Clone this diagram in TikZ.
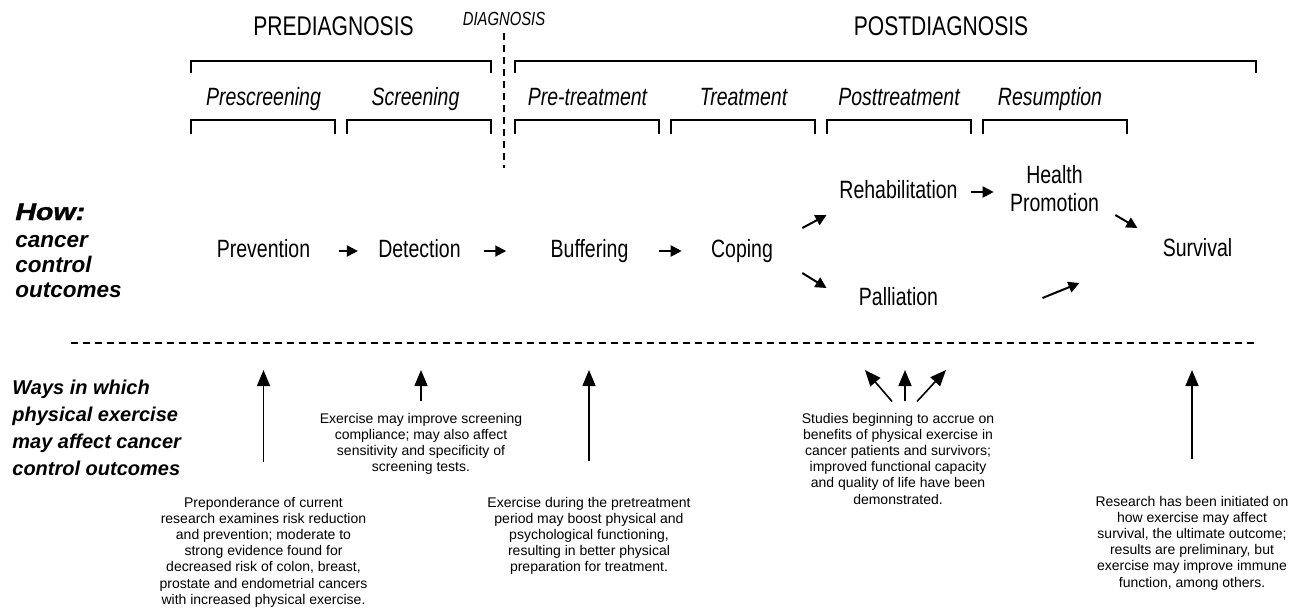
\documentclass[tikz,border=0pt]{standalone}
\usepackage{fontspec}
\setmainfont{Liberation Sans}
\newfontfamily\narrowfont{Liberation Sans}[FakeStretch=0.78]
\newfontfamily\heavyfont{Liberation Sans}[FakeBold=1.5,FakeStretch=1.19]
\usetikzlibrary{arrows.meta}
\begin{document}
\begin{tikzpicture}[x=0.5pt,y=-0.5pt,
 lab/.style={font=\narrowfont\fontsize{12.5}{14}\selectfont,inner sep=0pt,anchor=base},
 phaselab/.style={font=\narrowfont\itshape\fontsize{12.5}{14}\selectfont,inner sep=0pt,anchor=base},
 headlab/.style={font=\narrowfont\fontsize{13.5}{16}\selectfont,inner sep=0pt,anchor=base},
 diaglab/.style={font=\narrowfont\itshape\fontsize{9.5}{11}\selectfont,inner sep=0pt,anchor=base},
 notetext/.style={font=\fontsize{7}{8.1}\selectfont,align=center,inner sep=0pt,anchor=base},
 howlab/.style={font=\heavyfont\bfseries\itshape\fontsize{12}{14}\selectfont,inner sep=0pt,anchor=base west},
 sidelab/.style={font=\bfseries\itshape\fontsize{11.25}{12.5}\selectfont,align=left,inner sep=0pt,anchor=base west},
 wayslab/.style={font=\bfseries\itshape\fontsize{10}{13.6}\selectfont,align=left,inner sep=0pt,anchor=base west},
 brk/.style={line width=0.8pt},
 flowarr/.style={line width=1pt,-{Triangle[length=5.5pt,width=5.5pt]}},
 uparr/.style={line width=0.8pt,-{Triangle[length=8pt,width=6.5pt]}},
 dashln/.style={line width=0.8pt,dash pattern=on 3.5pt off 2.5pt},
]
\useasboundingbox (0,0) rectangle (1290,607);
\fill[white] (0,0) rectangle (1290,607);

% headers
\node[headlab] (prehead) at (333.5,35) {PREDIAGNOSIS};
\node[diaglab] (diag) at (504,25) {DIAGNOSIS};
\node[headlab] (posthead) at (941,35) {POSTDIAGNOSIS};
\coordinate (diagend) at (504,168);
\draw[dashln] ([yshift=-4pt]diag.base) -- (diagend);

% upper brackets
\draw[brk] (191,73) -- (191,61) -- (491,61) -- (491,73);
\draw[brk] (515,73) -- (515,61) -- (1256,61) -- (1256,73);

% phase labels
\node[phaselab] (ph1) at (263.5,105) {Prescreening};
\node[phaselab] (ph2) at (415.5,105) {Screening};
\node[phaselab] (ph3) at (587.5,105) {Pre-treatment};
\node[phaselab] (ph4) at (743.5,105) {Treatment};
\node[phaselab] (ph5) at (899,105) {Posttreatment};
\node[phaselab] (ph6) at (1050,105) {Resumption};

% lower brackets
\foreach \a/\b in {191/335,347/491,515/659,671/815,827/971,983/1127}
  \draw[brk] (\a,134) -- (\a,120) -- (\b,120) -- (\b,134);

% side labels (base = last line)
\node[howlab] (how) at (15,220) {How:};
\node[sidelab] (ccl) at (15,297) {cancer\\control\\outcomes};
\node[wayslab] (ways) at (12,475.6) {Ways in which\\physical exercise\\may affect cancer\\control outcomes};

% outcome nodes
\node[lab] (prev) at (263.5,257) {Prevention};
\node[lab] (det) at (419.5,257) {Detection};
\node[lab] (buf) at (589.5,257) {Buffering};
\node[lab] (cop) at (742,257) {Coping};
\node[lab] (rehab) at (898.5,198) {Rehabilitation};
\node[lab,align=center] (hp) at (1054.5,211) {Health\\Promotion};
\node[lab] (surv) at (1197.5,256) {Survival};
\node[lab] (pall) at (898.5,305) {Palliation};

\draw[flowarr,shorten <=14pt,shorten >=10pt] ([yshift=3pt]prev.base east) -- ([yshift=3pt]det.base west);
\draw[flowarr,shorten <=11.5pt,shorten >=22pt] ([yshift=3pt]det.base east) -- ([yshift=3pt]buf.base west);
\draw[flowarr,shorten <=15.25pt,shorten >=14.5pt] ([yshift=3pt]buf.base east) -- ([yshift=3pt]cop.base west);
\draw[flowarr] ([shift={(14.5pt,14.5pt)}]cop.base east) -- ([shift={(-6.25pt,-8.5pt)}]rehab.base west);
\draw[flowarr] ([shift={(14.5pt,-8pt)}]cop.base east) -- ([shift={(-16pt,8.5pt)}]pall.base west);
\draw[flowarr] ([shift={(6.5pt,3pt)}]rehab.base east) -- ([shift={(-8pt,9.5pt)}]hp.base west);
\draw[flowarr] ([shift={(8pt,-2pt)}]hp.base east) -- ([shift={(-12.5pt,14pt)}]surv.base west);
\draw[flowarr] ([shift={(52pt,3.5pt)}]pall.base east) -- ([shift={(-41.5pt,-13.5pt)}]surv.base west);

% separator
\coordinate (sepl) at (71,343);
\coordinate (sepr) at (1257,343);
\draw[dashln] (sepl) -- (sepr);

% notes (base = last line)
\node[notetext] (scr) at (421,471.6) {Exercise may improve screening\\compliance; may also affect\\sensitivity and specificity of\\screening tests.};
\node[notetext] (prep) at (263.5,604.2) {Preponderance of current\\research examines risk reduction\\and prevention; moderate to\\strong evidence found for\\decreased risk of colon, breast,\\prostate and endometrial cancers\\with increased physical exercise.};
\node[notetext] (ptr) at (589,571.8) {Exercise during the pretreatment\\period may boost physical and\\psychological functioning,\\resulting in better physical\\preparation for treatment.};
\node[notetext] (stu) at (898,504) {Studies beginning to accrue on\\benefits of physical exercise in\\cancer patients and survivors;\\improved functional capacity\\and quality of life have been\\demonstrated.};
\node[notetext] (res) at (1192,587) {Research has been initiated on\\how exercise may affect\\survival, the ultimate outcome;\\results are preliminary, but\\exercise may improve immune\\function, among others.};

\coordinate (tA) at (263.5,370);
\coordinate (tB) at (421,370);
\coordinate (tC) at (589,370);
\coordinate (tD1) at (865,370);
\coordinate (tD2) at (905,370);
\coordinate (tD3) at (946,370);
\coordinate (tE) at (1192,370);
\draw[uparr,shorten <=17pt] (prep.north) -- (tA);
\draw[uparr,shorten <=5.5pt] (scr.north) -- (tB);
\draw[uparr,shorten <=17.5pt] (ptr.north) -- (tC);
\draw[uparr] ([shift={(-3pt,5.5pt)}]stu.north) -- (tD1);
\draw[uparr] ([shift={(3.5pt,5.5pt)}]stu.north) -- (tD2);
\draw[uparr] ([shift={(9.5pt,5.5pt)}]stu.north) -- (tD3);
\draw[uparr,shorten <=18pt] (res.north) -- (tE);
\end{tikzpicture}
\end{document}
